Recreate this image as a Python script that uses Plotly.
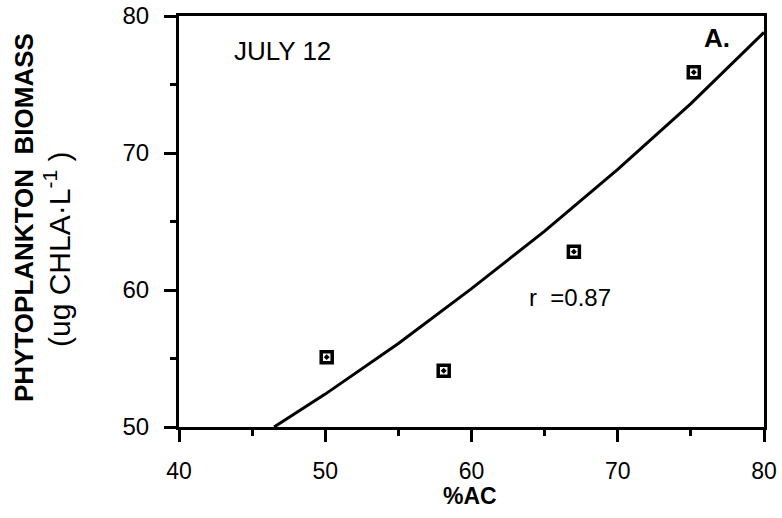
import plotly.graph_objects as go

pct_ac = [50.1, 58.1, 67.0, 75.2]
biomass = [55.1, 54.1, 62.8, 75.9]

# Fitted curve points
fit_x = [46.5, 50, 55, 60, 65, 70, 75, 80]
fit_y = [50.0, 52.4, 56.1, 60.1, 64.3, 68.8, 73.6, 78.8]

x_ticks = [40, 50, 60, 70, 80]
y_ticks = [50, 60, 70, 80]

W, H = 782, 518
PL, PT, PR, PB = 179, 16, 764, 427  # plot area on the page (pixels)
L, T = PL, PT
R = W - PR
B = H - PB
PW, PH = PR - PL, PB - PT

def px(xp):
    return (xp - PL) / PW

def py(yp):
    return (PB - yp) / PH

FONT = "Liberation Sans, Arial, sans-serif"

fig = go.Figure()
fig.add_trace(go.Scatter(x=fit_x, y=fit_y, mode="lines",
                         line=dict(color="black", width=3), hoverinfo="skip",
                         showlegend=False))
fig.add_trace(go.Scatter(x=pct_ac, y=biomass, mode="markers",
                         marker=dict(symbol="square-open-dot", size=11, color="black",
                                     line=dict(color="black", width=3.5)),
                         showlegend=False))

axis_common = dict(showline=True, linecolor="black", linewidth=3, mirror=True,
                   showgrid=False, zeroline=False, ticks="outside", ticklen=12,
                   tickwidth=3, tickcolor="black", automargin=False,
                   ticklabeloverflow="allow")

fig.update_xaxes(range=[40, 80], tickvals=x_ticks, ticklabelstandoff=9,
                 tickfont=dict(family=FONT, size=23, color="black"),
                 minor=dict(dtick=5, ticks="outside", ticklen=6, tickwidth=3,
                            tickcolor="black", showgrid=False),
                 **axis_common)
fig.update_yaxes(range=[50, 80], tickvals=y_ticks, ticklabelstandoff=10,
                 tickfont=dict(family=FONT, size=24, color="black"),
                 minor=dict(dtick=5, ticks="outside", ticklen=6, tickwidth=3,
                            tickcolor="black", showgrid=False),
                 **axis_common)

annotations = [
    dict(text="JULY 12", x=px(282), y=py(51), font=dict(family=FONT, size=26)),
    dict(text="<b>A.</b>", x=px(717), y=py(38), font=dict(family=FONT, size=26)),
    dict(text="r  =0.87", x=px(570), y=py(297), font=dict(family=FONT, size=24)),
    dict(text="<b>%AC</b>", x=px(470), y=py(496), font=dict(family=FONT, size=23)),
    dict(text="<b>PHYTOPLANKTON  BIOMASS</b>", x=px(24), y=py(218), textangle=-90,
         font=dict(family=FONT, size=26)),
    dict(text="(ug CHLA·L<sup>-1</sup> )", x=px(57), y=py(250), textangle=-90,
         font=dict(family=FONT, size=30)),
]
for a in annotations:
    a.update(xref="paper", yref="paper", showarrow=False, xanchor="center",
             yanchor="middle")
    a["font"]["color"] = "black"
fig.update_layout(annotations=annotations)

fig.update_layout(width=W, height=H, margin=dict(l=L, r=R, t=T, b=B),
                  plot_bgcolor="white", paper_bgcolor="white",
                  font=dict(family=FONT, color="black"))

fig.write_html("out.html", config={"displayModeBar": False},
               post_script="document.body.style.margin='0px';")
